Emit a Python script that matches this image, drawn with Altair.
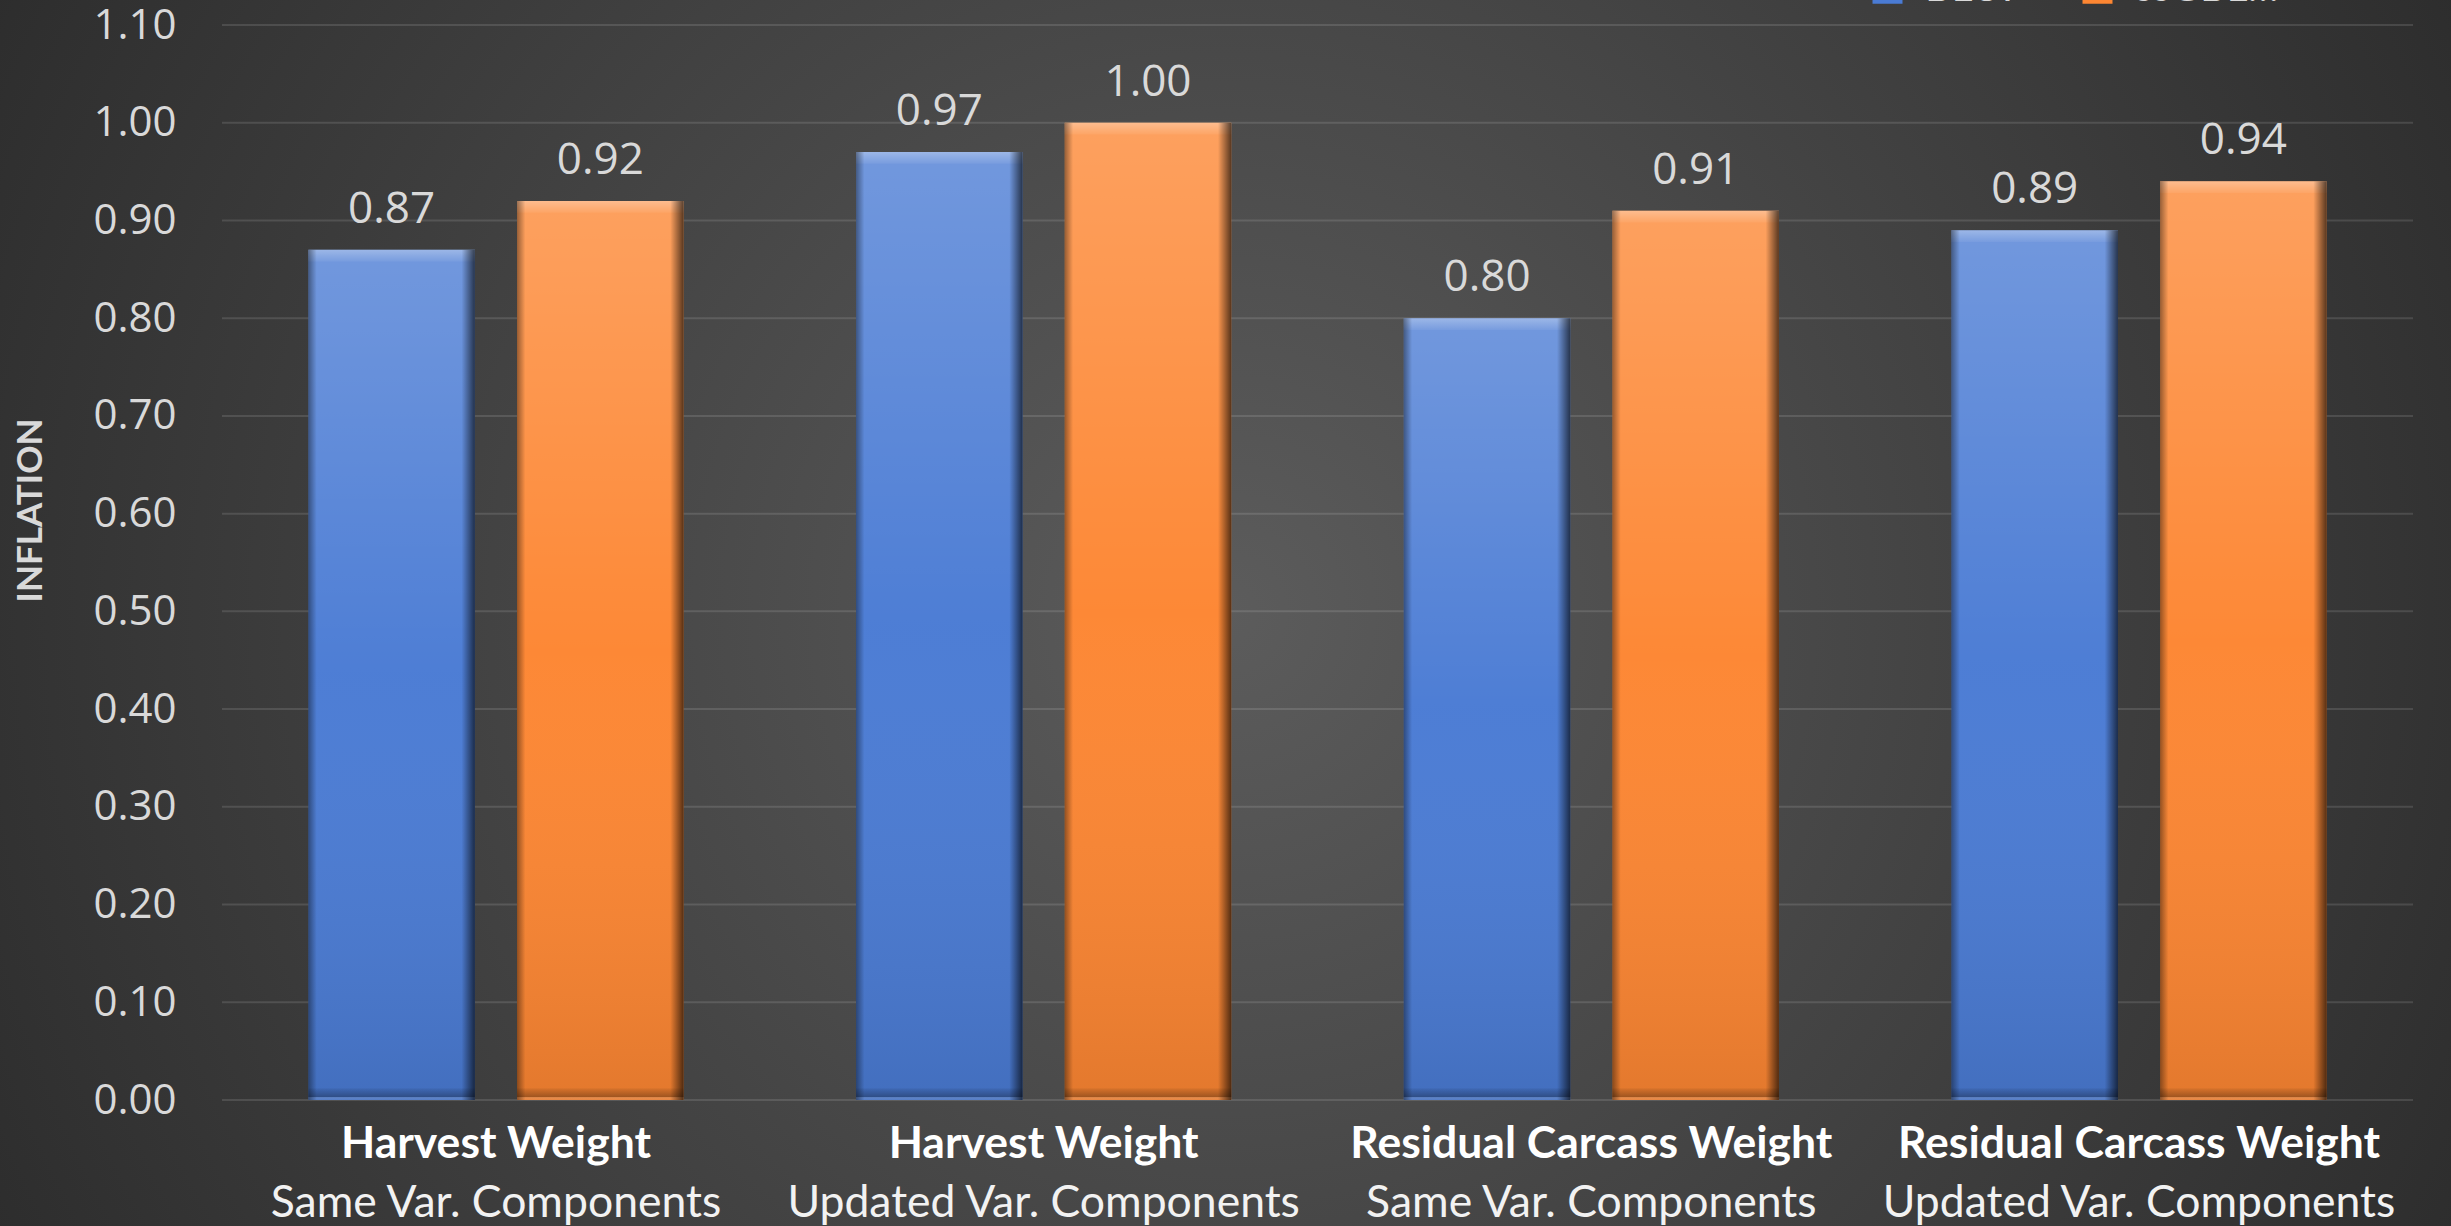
import altair as alt
import pandas as pd

# ---------------- data ----------------
cat_ids = ["HW_same", "HW_upd", "RCW_same", "RCW_upd"]
cat_line1 = ["Harvest Weight", "Harvest Weight", "Residual Carcass Weight", "Residual Carcass Weight"]
cat_line2 = ["Same Var. Components", "Updated Var. Components", "Same Var. Components", "Updated Var. Components"]
series_names = ["BLUP", "ssGBLUP"]
blup_values = [0.87, 0.97, 0.80, 0.89]
ssgblup_values = [0.92, 1.00, 0.91, 0.94]
y_ticks = [0.0, 0.1, 0.2, 0.3, 0.4, 0.5, 0.6, 0.7, 0.8, 0.9, 1.0, 1.1]
series_colors = ["#4a7bd4", "#fd8632"]

# ---------------- layout ----------------
TOTAL_W, TOTAL_H = 2451, 1226
W, H = 2191, 1075
PAD_L, PAD_T = 222, 25
PAD_R = TOTAL_W - PAD_L - W
PAD_B = TOTAL_H - PAD_T - H

rows = []
for i, c in enumerate(cat_ids):
    rows.append({"cat": c, "series": series_names[0], "value": blup_values[i]})
    rows.append({"cat": c, "series": series_names[1], "value": ssgblup_values[i]})
df = pd.DataFrame(rows)
cats_df = pd.DataFrame({"cat": cat_ids, "line1": cat_line1, "line2": cat_line2})
ticks_df = pd.DataFrame({"value": y_ticks})

x_scale = alt.Scale(domain=cat_ids, paddingInner=0.315, paddingOuter=0.1577)
xo_scale = alt.Scale(domain=series_names, paddingInner=0.202, paddingOuter=0)
y_scale = alt.Scale(domain=[0, 1.1], nice=False, zero=True)

x_enc = alt.X("cat:N", scale=x_scale, axis=None)
xo_enc = alt.XOffset("series:N", scale=xo_scale)

y_axis = alt.Axis(
    values=y_ticks, format=".2f", grid=False, domain=False, ticks=False,
    tickSize=0, labelPadding=46, labelFont="Open Sans", labelFontSize=42,
    labelColor="#d9d9d9", labelFlush=False, labelOverlap=False,
    titleFont="Lato", titleFontSize=35, titleFontWeight="bold",
    titleColor="#d9d9d9", titleAngle=270, titleX=-192, titleY=485,
    titleAlign="center", titleBaseline="middle", zindex=1,
)
y_main = alt.Y("value:Q", scale=y_scale, title="INFLATION", axis=y_axis)

# background radial gradient
bg = alt.Chart(pd.DataFrame({"k": [0]})).mark_rect(
    fill={
        "gradient": "radial",
        "x1": 0.5, "y1": 0.5, "r1": 0,
        "x2": 0.5, "y2": 0.5, "r2": 0.6,
        "stops": [
            {"offset": 0, "color": "#5c5c5c"},
            {"offset": 1, "color": "#2a2a2a"},
        ],
    }
).encode(
    x=alt.value(-PAD_L), x2=alt.value(TOTAL_W - PAD_L),
    y=alt.value(-PAD_T), y2=alt.value(TOTAL_H - PAD_T),
)

grid = alt.Chart(ticks_df).mark_rule(
    stroke="#ffffff", strokeOpacity=0.12, strokeWidth=2
).encode(
    y=y_main,
    x=alt.value(0), x2=alt.value(W),
)

bars = alt.Chart(df).mark_bar().encode(
    x=x_enc,
    xOffset=xo_enc,
    y=y_main,
    color=alt.Color(
        "series:N",
        scale=alt.Scale(domain=series_names, range=series_colors),
        legend=alt.Legend(
            title=None, orient="none", legendX=1645, legendY=-57,
            direction="horizontal", symbolType="square", symbolSize=900,
            symbolStrokeWidth=0, labelFont="Lato", labelFontSize=41,
            labelColor="#d9d9d9", labelOffset=17, columnPadding=50, padding=0,
            zindex=1,
        ),
    ),
)

shade_v = alt.Chart(df).mark_bar(
    fill={
        "gradient": "linear", "x1": 0, "y1": 0, "x2": 0, "y2": 1,
        "stops": [
            {"offset": 0, "color": "rgba(255,255,255,0.22)"},
            {"offset": 0.5, "color": "rgba(255,255,255,0.02)"},
            {"offset": 1, "color": "rgba(0,0,0,0.10)"},
        ],
    }
).encode(x=x_enc, xOffset=xo_enc, y=y_main)

# top highlight bevel
bevel_top = alt.Chart(df).transform_calculate(
    lower="datum.value - 0.012"
).mark_bar(
    fill={
        "gradient": "linear", "x1": 0, "y1": 0, "x2": 0, "y2": 1,
        "stops": [
            {"offset": 0, "color": "rgba(255,255,255,0.30)"},
            {"offset": 1, "color": "rgba(255,255,255,0.05)"},
        ],
    }
).encode(x=x_enc, xOffset=xo_enc, y=y_main, y2="lower:Q")

# bottom shadow bevel
bevel_bot = alt.Chart(df).transform_calculate(
    low="0", high="0.012"
).mark_bar(
    fill={
        "gradient": "linear", "x1": 0, "y1": 0, "x2": 0, "y2": 1,
        "stops": [
            {"offset": 0, "color": "rgba(0,0,0,0.05)"},
            {"offset": 0.75, "color": "rgba(0,0,0,0.30)"},
            {"offset": 0.8, "color": "rgba(255,255,255,0.15)"},
            {"offset": 1, "color": "rgba(255,255,255,0.10)"},
        ],
    }
).encode(
    x=x_enc, xOffset=xo_enc,
    y=alt.Y("high:Q", scale=y_scale, title="INFLATION", axis=y_axis), y2="low:Q",
)

shade_h = alt.Chart(df).mark_bar(
    fill={
        "gradient": "linear", "x1": 0, "y1": 0, "x2": 1, "y2": 0,
        "stops": [
            {"offset": 0, "color": "rgba(0,0,0,0.40)"},
            {"offset": 0.05, "color": "rgba(0,0,0,0)"},
            {"offset": 0.92, "color": "rgba(0,0,0,0)"},
            {"offset": 1, "color": "rgba(0,0,0,0.65)"},
        ],
    }
).encode(x=x_enc, xOffset=xo_enc, y=y_main)

labels = alt.Chart(df).mark_text(
    font="Open Sans", fontSize=44, color="#d9d9d9", baseline="alphabetic", dy=-27
).encode(
    x=x_enc, xOffset=xo_enc, y=y_main,
    text=alt.Text("value:Q", format=".2f"),
)

xl1 = alt.Chart(cats_df).mark_text(
    font="Lato", fontSize=44.5, fontWeight="bold", color="#ffffff", baseline="alphabetic"
).encode(x=x_enc, y=alt.value(H + 58), text="line1:N")

xl2 = alt.Chart(cats_df).mark_text(
    font="Lato", fontSize=44.5, color="#f2f2f2", baseline="alphabetic"
).encode(x=x_enc, y=alt.value(H + 117), text="line2:N")

chart = alt.layer(
    bg, grid, bars, shade_v, bevel_top, bevel_bot, shade_h, labels, xl1, xl2
).properties(
    width=W, height=H,
    padding={"left": PAD_L, "top": PAD_T, "right": PAD_R, "bottom": PAD_B},
    autosize=alt.AutoSizeParams(type="none"),
    background="#2a2a2a",
).configure_view(stroke=None)

chart.save("out.html", embed_options={"renderer": "svg", "actions": False})
